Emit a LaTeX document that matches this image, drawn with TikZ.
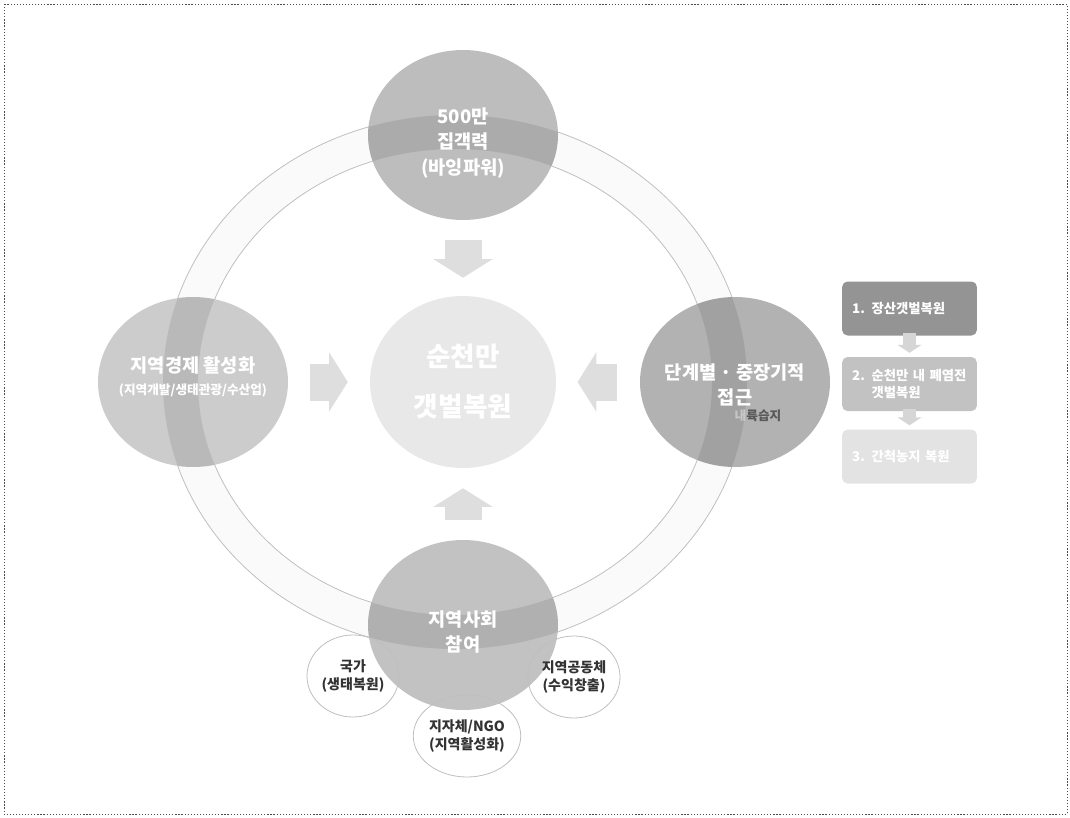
\documentclass[tikz,border=0pt]{standalone}
\usepackage{fontspec}
\setmainfont{Noto Sans CJK KR}
\usetikzlibrary{shapes.geometric, arrows.meta, positioning}

\begin{document}
\begin{tikzpicture}[x=0.75pt, y=-0.75pt,
    bigc/.style = {ellipse, minimum width=142.5pt, minimum height=127.5pt, inner sep=0pt},
    bigtxt/.style = {text=white, font=\bfseries\fontsize{14}{19}\selectfont, align=center},
    smallc/.style = {ellipse, draw=black!25, line width=0.6pt, minimum width=69pt, minimum height=61.5pt, inner sep=0pt, text=black!80, font=\bfseries\fontsize{10.5}{14}\selectfont, align=center},
    stepbox/.style = {rectangle, rounded corners=4pt, minimum height=40.5pt, text width=86pt, inner xsep=7.5pt, text=white, font=\bfseries\fontsize{10}{13}\selectfont, align=left},
    bigarrow/.style = {draw=black!13, line width=27.75pt, -{Triangle[length=14pt, width=44pt]}},
    smallarrow/.style = {draw=black!16, line width=10pt, -{Triangle[length=6pt, width=18pt]}},
    ring/.style = {draw=black!25, line width=0.6pt, fill=black!2, even odd rule}]
    \useasboundingbox (0,0) rectangle (1070,817);
    \draw[black!70, line width=0.7pt, dash pattern=on 0.9pt off 1.4pt] (4,4) rectangle (1067,814);

    % ring behind the circles
    \path[ring] (455,382) ellipse [x radius=292, y radius=267] (455,382) ellipse [x radius=257, y radius=233];

    \node[bigc, fill=black!26] (top) at (463,135) {};
    \node[bigc, fill=black!20] (left) at (193,382) {};
    \node[bigc, fill=black!30] (right) at (735,382) {};
    \node[bigc, fill=black!24] (bottom) at (463,625) {};
    \node[ellipse, minimum width=139.5pt, minimum height=129pt, inner sep=0pt, fill=black!9] (hub) at (463,382) {};

    % band seen through the circles
    \begin{scope}
        \clip (463,135) ellipse [x radius=95, y radius=85] (193,382) ellipse [x radius=95, y radius=85]
              (735,382) ellipse [x radius=95, y radius=85] (463,625) ellipse [x radius=95, y radius=85];
        \fill[black, opacity=0.09, even odd rule] (455,382) ellipse [x radius=292, y radius=267] (455,382) ellipse [x radius=257, y radius=233];
    \end{scope}

    \node[bigtxt] (toplbl) at (463,143) {500만\\집객력\\(바잉파워)};
    \node[bigtxt] (leftlbl) at (193,377) {지역경제 활성화\\[-3pt]{\fontsize{9.5}{11}\selectfont(지역개발/생태관광/수산업)}};
    \node[bigtxt] (rightlbl) at (735,385) {단계별 · 중장기적\\접근};
    \node[text=black!65, font=\bfseries\fontsize{9.5}{11}\selectfont] (wetland) at (758,416) {{\color{black!22}내}륙습지};
    \node[bigtxt] (bottomlbl) at (463,632) {지역사회\\참여};
    \node[text=white, font=\bfseries\fontsize{20}{37.5}\selectfont, align=center] (hublbl) at (463,382) {순천만\\갯벌복원};

    \node[smallc] (nation) at (353,676) {국가\\(생태복원)};
    \node[smallc] (local) at (467,736) {지자체/NGO\\(지역활성화)};
    \node[smallc] (community) at (574,677) {지역공동체\\(수익창출)};

    \draw[bigarrow, shorten <=15pt, shorten >=13.5pt] (top) -- (hub);
    \draw[bigarrow, shorten <=15pt, shorten >=15pt] (bottom) -- (hub);
    \draw[bigarrow, shorten <=16.5pt, shorten >=16.5pt] (left) -- (hub);
    \draw[bigarrow, shorten <=17pt, shorten >=16pt] (right) -- (hub);

    % steps on the right
    \node[stepbox, fill=black!42] (step1) at (909.5,308.5) {1. 장산갯벌복원};
    \node[stepbox, fill=black!24, below=15.75pt of step1] (step2) {2. 순천만 내 폐염전\\\phantom{2. }갯벌복원};
    \node[stepbox, fill=black!11, below=13.5pt of step2] (step3) {3. 간척농지 복원};
    \draw[smallarrow, shorten <=-2pt, shorten >=3pt] (step1) -- (step2);
    \draw[smallarrow, shorten <=-2pt, shorten >=3pt] (step2) -- (step3);
\end{tikzpicture}
\end{document}
